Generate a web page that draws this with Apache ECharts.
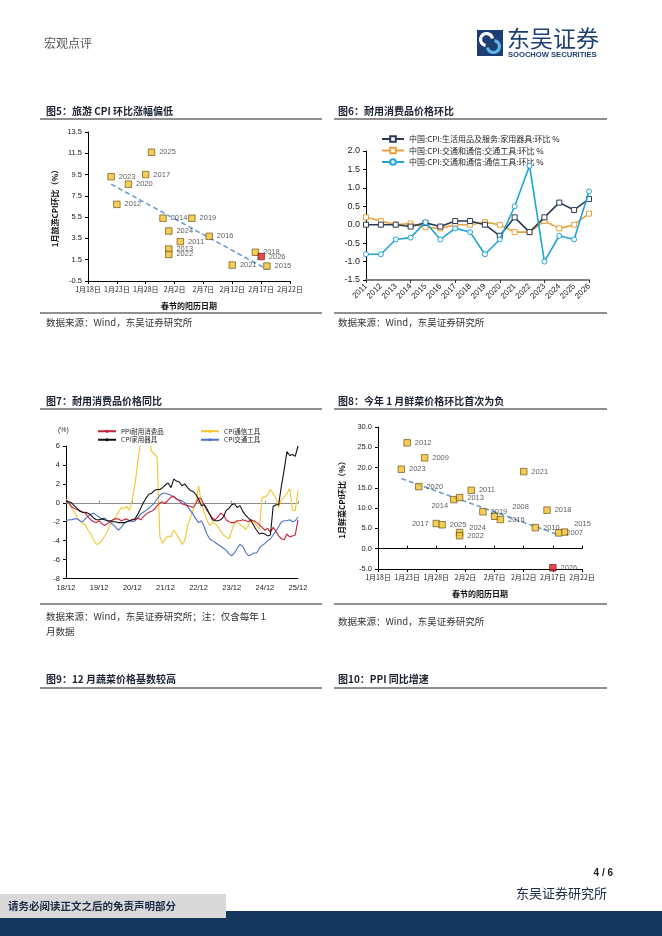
<!DOCTYPE html>
<html><head><meta charset="utf-8">
<script src="https://cdn.jsdelivr.net/npm/echarts@6/dist/echarts.min.js"></script>
<style>html,body{margin:0;padding:0;background:#fff}#c{width:662px;height:936px}</style>
</head><body><div id="c"></div>
<script>
// ---------- data ----------
const dayTicks = ['1月18日','1月23日','1月28日','2月2日','2月7日','2月12日','2月17日','2月22日'];

// Chart 5: tourism CPI Jan m/m vs Spring Festival date (days after Jan 18)
const c5Years  = ['2025','2023','2017','2020','2012','2014','2019','2024','2011','2016','2013','2022','2018','2026','2021','2015'];
const c5Days   = [11, 4, 10, 7, 5, 13, 18, 14, 16, 21, 14, 14, 29, 30, 25, 31];
const c5Values = [11.6, 9.3, 9.5, 8.6, 6.7, 5.4, 5.4, 4.2, 3.2, 3.7, 2.5, 2.0, 2.2, 1.8, 1.0, 0.9];
const c5TrendDays = [4, 31];
const c5TrendValues = [8.6, 0.6];

// Chart 6: durable goods CPI m/m (January)
const c6Years = ['2011','2012','2013','2014','2015','2016','2017','2018','2019','2020','2021','2022','2023','2024','2025','2026'];
const c6Appliance = [0.0, 0.0, 0.0, -0.05, 0.05, -0.05, 0.1, 0.1, 0.0, -0.3, 0.2, -0.2, 0.2, 0.6, 0.4, 0.7];
const c6Vehicle   = [0.2, 0.1, 0.0, 0.03, -0.07, -0.1, 0.0, 0.0, 0.07, 0.0, -0.2, -0.2, 0.1, -0.1, 0.0, 0.3];
const c6Comm      = [-0.8, -0.8, -0.4, -0.35, 0.07, -0.4, -0.1, -0.2, -0.8, -0.4, 0.5, 1.6, -1.0, -0.3, -0.4, 0.9];
const c6Names = ['中国:CPI:生活用品及服务:家用器具:环比 %','中国:CPI:交通和通信:交通工具:环比 %','中国:CPI:交通和通信:通信工具:环比 %'];

// Chart 7: durable goods prices y/y, monthly 2018-12 .. 2025-12
const c7Months = [];
for (let y = 2018; y <= 2025; y++) for (let m = 1; m <= 12; m++) {
  if (y === 2018 && m < 12) continue;
  c7Months.push(String(y).slice(2) + '/' + String(m).padStart(2, '0'));
}
const c7PPI = [0.1,0.0,-0.4,-0.6,-0.7,-0.8,-1.0,-1.1,-1.5,-1.8,-2.0,-2.1,
  -1.9,-2.2,-2.4,-2.2,-2.0,-1.8,-1.7,-1.7,-1.9,-1.8,-1.7,-1.9,
  -1.8,-1.8,-1.6,-1.8,-1.5,-1.2,-1.0,-0.9,-0.7,-0.3,0.0,0.1,
  -0.1,0.3,0.6,0.7,0.4,0.2,-0.1,-0.2,-0.3,-0.4,-0.5,-0.1,
  0.5,0.4,-0.2,-0.8,-1.2,-1.6,-1.8,-1.5,-1.1,-1.3,-1.8,-2.0,
  -2.1,-2.1,-1.9,-1.9,-1.8,-1.9,-2.0,-1.8,-1.9,-2.1,-2.3,-2.6,
  -2.9,-2.7,-3.1,-2.6,-3.0,-3.5,-3.8,-3.9,-3.3,-3.6,-3.5,-3.4,
  -1.8];
const c7Appliance = [0.2,0.1,0.0,-0.3,-0.6,-0.9,-1.0,-1.0,-1.1,-1.3,-1.6,-1.8,
  -1.8,-1.7,-1.8,-1.9,-1.9,-2.0,-2.0,-2.1,-2.1,-2.1,-2.0,-1.9,
  -1.8,-1.7,-1.2,-0.6,0.0,0.5,0.9,1.0,1.3,1.4,1.4,1.6,
  1.9,2.1,1.6,2.5,2.3,2.2,1.8,2.0,1.6,1.3,1.2,0.9,
  0.4,-0.3,-0.2,-0.6,-1.2,-1.8,-1.9,-1.9,-1.8,-1.5,-0.8,-0.6,
  -0.2,-0.1,-0.5,-0.3,-0.9,-1.3,-1.6,-1.9,-2.4,-2.9,-3.3,-3.2,
  -3.3,-3.5,-3.4,-0.4,-0.2,-0.2,1.8,3.5,5.4,5.0,5.1,4.9,
  6.0];
const c7Comm = [0.4,0.0,-0.6,-1.0,-1.5,-1.9,-2.2,-2.3,-2.9,-3.3,-3.9,-4.4,
  -4.3,-4.0,-3.5,-3.0,-2.3,-1.8,-1.5,-1.0,-0.5,-0.6,-0.4,-0.8,
  0.3,2.0,4.3,6.5,7.5,7.8,7.0,5.4,5.2,4.8,-3.6,-4.3,
  -3.8,-3.5,-3.6,-2.9,-3.3,-3.8,-4.4,-4.0,-2.5,-1.6,-0.8,0.0,
  1.8,0.0,-1.0,-1.8,-2.4,-2.0,-2.2,-2.5,-3.0,-3.4,-3.6,-3.8,
  -3.0,-2.0,-2.0,-2.3,-2.5,-2.8,-2.5,-1.8,-2.0,-2.4,-2.8,0.6,
  0.6,0.8,1.4,1.0,0.5,-0.5,0.3,0.6,1.0,1.5,-0.8,-0.8,
  1.3];
const c7Vehicle = [-1.9,-1.8,-1.8,-1.7,-1.7,-1.9,-2.0,-1.7,-1.4,-1.2,-1.1,-1.3,
  -1.5,-1.7,-1.6,-1.9,-2.1,-2.3,-2.6,-2.9,-2.6,-2.2,-2.0,-1.9,
  -2.0,-1.9,-1.6,-1.2,-1.0,-0.8,-0.6,-0.3,0.0,0.4,0.8,1.0,
  1.0,0.9,0.8,0.6,0.4,0.3,0.2,0.0,-0.4,-0.8,-1.2,-1.7,
  -2.1,-1.9,-2.5,-3.3,-3.8,-4.0,-4.2,-4.4,-4.6,-4.8,-5.0,-5.4,
  -5.6,-5.3,-4.8,-4.4,-4.6,-5.2,-5.6,-5.5,-5.3,-5.3,-4.8,-4.5,
  -4.3,-4.0,-3.8,-3.4,-3.0,-2.5,-2.0,-1.9,-1.9,-1.8,-2.0,-1.9,
  -1.5];
const c7Names = ['PPI耐用消费品','CPI家用器具','CPI通信工具','CPI交通工具'];

// Chart 8: fresh vegetable CPI Jan m/m vs Spring Festival date
const c8Years  = ['2012','2009','2023','2021','2020','2011','2014','2013','2019','2008','2016','2018','2017','2025','2024','2022','2010','2015','2007','2026'];
const c8Days   = [5, 8, 4, 25, 7, 16, 13, 14, 18, 20, 21, 29, 10, 11, 14, 14, 27, 32, 31, 30];
const c8Values = [26.1, 22.4, 19.6, 19.0, 15.3, 14.4, 12.1, 12.6, 9.1, 8.0, 7.2, 9.5, 6.2, 5.9, 4.0, 3.2, 5.2, 4.1, 3.9, -4.7];
const c8TrendDays = [4, 31];
const c8TrendValues = [17.3, 3.4];

// ---------- styles ----------
const NUM = '"Liberation Sans", "DejaVu Sans", sans-serif';
const CJK = '"Noto Sans CJK SC", "Noto Sans", sans-serif';
const GOLD = '#f3c12b', GOLDB = '#5b4612', RED = '#e21d1d';
const c8LabelPos = {
  '2014': {position: 'left', offset: [2, 6]},
  '2017': {position: 'left', offset: [0, 0]},
  '2008': {position: 'right', offset: [10, -9]},
  '2024': {position: 'right', offset: [2, -5]},
  '2015': {position: 'right', offset: [2, -8]}
};

function scatterData(years, days, vals) {
  return years.map((y, i) => ({
    name: y, value: [days[i], vals[i]],
    itemStyle: y === '2026' ? {color: RED, borderColor: '#5a1010'} : undefined
  }));
}
const dayAxis = (grid) => ({
  type: 'value', gridIndex: grid, min: 0, max: 35, interval: 5,
  axisLine: {onZero: false, lineStyle: {color: '#000', width: 1}},
  axisTick: {show: true, length: 3, lineStyle: {color: '#000'}},
  splitLine: {show: false},
  axisLabel: {formatter: v => dayTicks[Math.round(v / 5)], fontSize: 7, color: '#222', fontFamily: CJK, margin: 5},
  nameLocation: 'middle', name: '春节的阳历日期', nameGap: 21,
  nameTextStyle: {fontSize: 8, fontWeight: 'bold', color: '#111', fontFamily: CJK}
});

const chart = echarts.init(document.getElementById('c'), null, {renderer: 'canvas'});

const T = (text, x, y, font, fill, align) => ({
  type: 'text', silent: true,
  style: {text, x, y, font, fill: fill || '#222', textAlign: align || 'left', textVerticalAlign: 'middle', align: align || 'left', verticalAlign: 'middle'}
});
const L = (x1, y1, x2, y2, color, w) => ({
  type: 'line', silent: true, shape: {x1, y1, x2, y2}, style: {stroke: color || '#222', lineWidth: w || 1}
});
const titleFont = 'bold 10px ' + CJK;
const srcFont = '9.5px ' + CJK;

const graphics = [
  // header
  T('宏观点评', 44, 43, '12px ' + CJK, '#555'),
  {type: 'rect', shape: {x: 477, y: 30, width: 26, height: 26}, style: {fill: '#1c3e72'}},
  {type: 'arc', shape: {cx: 486.5, cy: 39.5, r: 6, startAngle: Math.PI * 0.55, endAngle: Math.PI * 1.95}, style: {stroke: '#fff', lineWidth: 3.2, fill: null}},
  {type: 'arc', shape: {cx: 493.5, cy: 46.5, r: 6, startAngle: -Math.PI * 0.45, endAngle: Math.PI * 0.95}, style: {stroke: '#5fb3e6', lineWidth: 3.2, fill: null}},
  T('东吴证券', 507, 38, '23px ' + CJK, '#1c3e72'),
  T('SOOCHOW SECURITIES', 508, 54.5, 'bold 7.6px ' + NUM, '#1c3e72'),
  // row 1 titles
  T('图5：旅游 CPI 环比涨幅偏低', 46, 111, titleFont, '#1b2233'),
  T('图6：耐用消费品价格环比', 338, 111, titleFont, '#1b2233'),
  L(40, 119, 322, 119, '#222', 1.2), L(334, 119, 607, 119, '#222', 1.2),
  L(40, 313, 322, 313, '#222', 1.2), L(334, 313, 607, 313, '#222', 1.2),
  T('数据来源：Wind，东吴证券研究所', 46, 322, srcFont, '#333'),
  T('数据来源：Wind，东吴证券研究所', 338, 322, srcFont, '#333'),
  // row 2
  T('图7：耐用消费品价格同比', 46, 401, titleFont, '#1b2233'),
  T('图8：今年 1 月鲜菜价格环比首次为负', 338, 401, titleFont, '#1b2233'),
  L(40, 409, 322, 409, '#222', 1.2), L(334, 409, 607, 409, '#222', 1.2),
  L(40, 604, 322, 604, '#222', 1.2), L(334, 604, 607, 604, '#222', 1.2),
  T('数据来源：Wind，东吴证券研究所；注：仅含每年 1', 46, 616, srcFont, '#333'),
  T('月数据', 46, 631, srcFont, '#333'),
  T('数据来源：Wind，东吴证券研究所', 338, 621, srcFont, '#333'),
  T('(%)', 58, 430, '7px ' + NUM, '#333'),
  // row 3
  T('图9：12 月蔬菜价格基数较高', 46, 679, titleFont, '#1b2233'),
  T('图10：PPI 同比增速', 338, 679, titleFont, '#1b2233'),
  L(40, 688, 322, 688, '#222', 1.2), L(334, 688, 607, 688, '#222', 1.2),
  // footer
  T('4 / 6', 613, 873, 'bold 10px ' + NUM, '#222', 'right'),
  {type: 'rect', shape: {x: 0, y: 911, width: 662, height: 25}, style: {fill: '#17375e'}},
  {type: 'rect', shape: {x: 0, y: 894, width: 226, height: 24}, style: {fill: '#d9d9d9'}},
  T('请务必阅读正文之后的免责声明部分', 8, 906, 'bold 10.5px ' + CJK, '#1b2a44'),
  T('东吴证券研究所', 607, 893, '13px ' + CJK, '#1b2a44', 'right')
];

const option = {
  animation: false,
  backgroundColor: '#fff',
  textStyle: {fontFamily: NUM},
  graphic: graphics,
  grid: [
    {left: 88, top: 132, width: 202, height: 149},
    {left: 366, top: 151, width: 223, height: 129},
    {left: 66, top: 446, width: 232, height: 132.5},
    {left: 378, top: 427, width: 204, height: 142}
  ],
  legend: [
    {data: c6Names, orient: 'vertical', left: 376, top: 130, itemWidth: 22, itemHeight: 7, itemGap: 3.5,
     textStyle: {fontSize: 8, color: '#222', fontFamily: CJK}},
    {data: c7Names.slice(0, 2), orient: 'vertical', left: 92, top: 423, itemWidth: 18, itemHeight: 4, itemGap: 2,
     textStyle: {fontSize: 6.5, color: '#222', fontFamily: CJK}},
    {data: c7Names.slice(2), orient: 'vertical', left: 195, top: 423, itemWidth: 18, itemHeight: 4, itemGap: 2,
     textStyle: {fontSize: 6.5, color: '#222', fontFamily: CJK}}
  ],
  xAxis: [
    dayAxis(0),
    {type: 'category', gridIndex: 1, data: c6Years, boundaryGap: false,
     axisLine: {show: false}, axisTick: {show: false},
     axisLabel: {rotate: 45, fontSize: 8, color: '#222', margin: 5, interval: 0}},
    {type: 'category', gridIndex: 1, data: c6Years, boundaryGap: false, position: 'bottom',
     axisLine: {onZero: true, lineStyle: {color: '#7f7f7f', width: 2}},
     axisTick: {show: true, length: 3, inside: false, lineStyle: {color: '#333'}}, axisLabel: {show: false}},
    {type: 'category', gridIndex: 2, data: c7Months, boundaryGap: false,
     axisLine: {onZero: false, lineStyle: {color: '#000'}}, axisTick: {show: false},
     axisLabel: {fontSize: 7.5, color: '#222', margin: 5, interval: (i) => i % 12 === 0}},
    {type: 'category', gridIndex: 2, data: c7Months, boundaryGap: false,
     axisLine: {onZero: true, lineStyle: {color: '#8c8c8c', width: 1.2}},
     axisTick: {show: true, length: 2, interval: (i) => i % 12 === 0, lineStyle: {color: '#8c8c8c'}}, axisLabel: {show: false}},
    dayAxis(3),
    {type: 'value', gridIndex: 3, min: 0, max: 35, interval: 5,
     axisLine: {onZero: true, lineStyle: {color: '#000'}}, axisTick: {show: true, length: 3, lineStyle: {color: '#000'}},
     axisLabel: {show: false}, splitLine: {show: false}}
  ],
  yAxis: [
    {type: 'value', gridIndex: 0, min: -0.5, max: 13.5, interval: 2,
     axisLine: {show: true, lineStyle: {color: '#000'}}, axisTick: {show: true, length: 3, lineStyle: {color: '#000'}},
     splitLine: {show: false}, axisLabel: {formatter: v => v.toFixed(1), fontSize: 7.5, color: '#222', margin: 6},
     name: '1月旅游CPI环比（%）', nameLocation: 'middle', nameGap: 29, nameRotate: 90,
     nameTextStyle: {fontSize: 8, fontWeight: 'bold', color: '#111', fontFamily: CJK}},
    {type: 'value', gridIndex: 1, min: -1.5, max: 2.0, interval: 0.5,
     axisLine: {show: true, lineStyle: {color: '#000'}}, axisTick: {show: true, length: 3, lineStyle: {color: '#000'}},
     splitLine: {show: false}, axisLabel: {formatter: v => v.toFixed(1), fontSize: 9, color: '#222', margin: 6}},
    {type: 'value', gridIndex: 2, min: -8, max: 6, interval: 2,
     axisLine: {show: true, lineStyle: {color: '#000'}}, axisTick: {show: true, length: 3, lineStyle: {color: '#000'}},
     splitLine: {show: false}, axisLabel: {fontSize: 7.5, color: '#222', margin: 6}},
    {type: 'value', gridIndex: 3, min: -5, max: 30, interval: 5,
     axisLine: {show: true, lineStyle: {color: '#000'}}, axisTick: {show: true, length: 3, lineStyle: {color: '#000'}},
     splitLine: {show: false}, axisLabel: {formatter: v => v.toFixed(1), fontSize: 7.5, color: '#222', margin: 6},
     name: '1月鲜菜CPI环比（%）', nameLocation: 'middle', nameGap: 32, nameRotate: 90,
     nameTextStyle: {fontSize: 8, fontWeight: 'bold', color: '#111', fontFamily: CJK}}
  ],
  series: [
    // chart 5
    {type: 'line', xAxisIndex: 0, yAxisIndex: 0, data: c5TrendDays.map((d, i) => [d, c5TrendValues[i]]),
     symbol: 'none', lineStyle: {color: '#6d9ed0', width: 1.6, type: [5, 3]}, z: 1},
    {type: 'scatter', xAxisIndex: 0, yAxisIndex: 0, data: scatterData(c5Years, c5Days, c5Values),
     symbol: 'rect', symbolSize: 6.5, itemStyle: {color: GOLD, borderColor: GOLDB, borderWidth: 0.8},
     label: {show: true, formatter: p => p.name, position: 'right', distance: 4, fontSize: 7.5, color: '#333'}, z: 3},
    // chart 6
    {name: c6Names[0], type: 'line', xAxisIndex: 1, yAxisIndex: 1, data: c6Appliance,
     symbol: 'rect', symbolSize: 5, itemStyle: {color: '#fff', borderColor: '#2d3b57', borderWidth: 1},
     lineStyle: {color: '#2d3b57', width: 1.6}, z: 4},
    {name: c6Names[1], type: 'line', xAxisIndex: 1, yAxisIndex: 1, data: c6Vehicle,
     symbol: 'rect', symbolSize: 5, itemStyle: {color: '#fff', borderColor: '#e9a23b', borderWidth: 1},
     lineStyle: {color: '#e9a23b', width: 1.6}, z: 3},
    {name: c6Names[2], type: 'line', xAxisIndex: 1, yAxisIndex: 1, data: c6Comm,
     symbol: 'circle', symbolSize: 5, itemStyle: {color: '#fff', borderColor: '#1ea5d8', borderWidth: 1},
     lineStyle: {color: '#1ea5d8', width: 1.6}, z: 5},
    // chart 7
    {name: c7Names[0], type: 'line', xAxisIndex: 3, yAxisIndex: 2, data: c7PPI, symbol: 'none',
     itemStyle: {color: '#c8213a'}, lineStyle: {color: '#c8213a', width: 1.1}, z: 4},
    {name: c7Names[1], type: 'line', xAxisIndex: 3, yAxisIndex: 2, data: c7Appliance, symbol: 'none',
     itemStyle: {color: '#111'}, lineStyle: {color: '#111', width: 1.1}, z: 5},
    {name: c7Names[2], type: 'line', xAxisIndex: 3, yAxisIndex: 2, data: c7Comm, symbol: 'none',
     itemStyle: {color: '#f2c531'}, lineStyle: {color: '#f2c531', width: 1.1}, z: 3},
    {name: c7Names[3], type: 'line', xAxisIndex: 3, yAxisIndex: 2, data: c7Vehicle, symbol: 'none',
     itemStyle: {color: '#4a72c9'}, lineStyle: {color: '#4a72c9', width: 1.1}, z: 3},
    // chart 8
    {type: 'line', xAxisIndex: 5, yAxisIndex: 3, data: c8TrendDays.map((d, i) => [d, c8TrendValues[i]]),
     symbol: 'none', lineStyle: {color: '#6d9ed0', width: 1.6, type: [5, 3]}, z: 1},
    {type: 'scatter', xAxisIndex: 5, yAxisIndex: 3,
     data: scatterData(c8Years, c8Days, c8Values).map(d => c8LabelPos[d.name] ? Object.assign(d, {label: c8LabelPos[d.name]}) : d),
     symbol: 'rect', symbolSize: 6.5, itemStyle: {color: GOLD, borderColor: GOLDB, borderWidth: 0.8},
     label: {show: true, formatter: p => p.name, position: 'right', distance: 4, fontSize: 7.5, color: '#333'}, z: 3}
  ]
};
chart.setOption(option);
</script></body></html>
